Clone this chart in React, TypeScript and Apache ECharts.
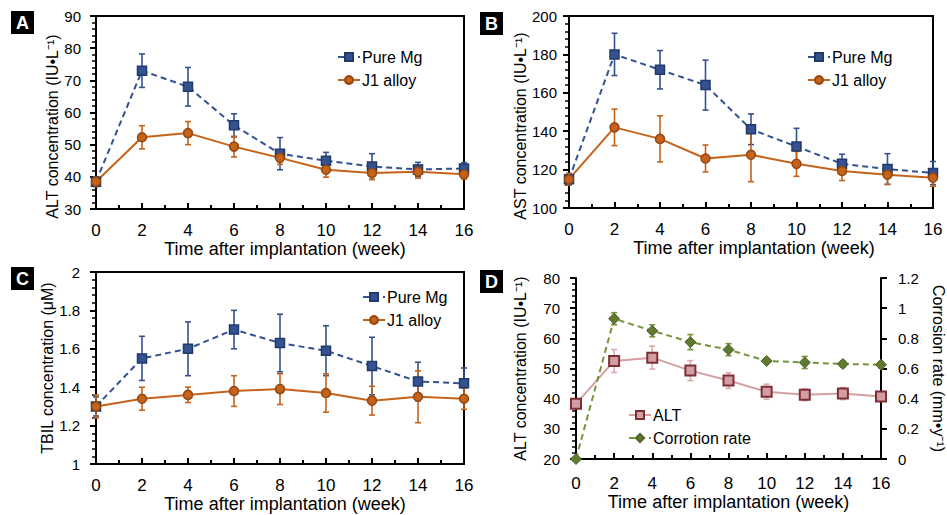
import React, { useEffect, useRef } from "react";
import * as echarts from "echarts";

const weeks = [0, 2, 4, 6, 8, 10, 12, 14, 16];

const pureA = [38.5, 73, 68, 56, 47.2, 45, 43.2, 42.3, 42.6];
const pureAErr = [1.5, 5.2, 6, 3.6, 5, 2.6, 4, 2.2, 1.8];
const j1A = [38.5, 52.3, 53.6, 49.4, 45.9, 42.2, 41.2, 41.6, 40.8];
const j1AErr = [1.5, 3.6, 3.6, 3.2, 2, 2.3, 2, 2, 1.5];

const pureB = [115, 180, 172, 164, 141, 132, 123, 120.3, 118.2];
const pureBErr = [3, 11, 10, 13, 8, 9.5, 5, 8, 6];
const j1B = [115, 142, 136, 125.8, 127.7, 123, 119.3, 117.3, 115.8];
const j1BErr = [3, 9.5, 12, 7, 14, 6.5, 5, 5, 4.5];

const pureC = [1.3, 1.55, 1.6, 1.7, 1.63, 1.59, 1.51, 1.43, 1.42];
const pureCErr = [0.05, 0.115, 0.14, 0.1, 0.15, 0.13, 0.15, 0.1, 0.08];
const j1C = [1.3, 1.34, 1.36, 1.38, 1.39, 1.37, 1.33, 1.35, 1.34];
const j1CErr = [0.06, 0.06, 0.04, 0.08, 0.08, 0.1, 0.075, 0.135, 0.055];

const altD = [38.3, 52.5, 53.6, 49.3, 46, 42.3, 41.3, 41.7, 40.7];
const altDErr = [1.5, 3.8, 3.8, 3.3, 2.6, 2.5, 2, 2, 1.5];
const corrD = [0, 0.93, 0.85, 0.775, 0.725, 0.65, 0.64, 0.63, 0.625];
const corrDErr = [0, 0.04, 0.04, 0.05, 0.04, 0.015, 0.04, 0.02, 0.02];

const FONT = "'Liberation Sans', Arial, sans-serif";
const BLUE = "#34528f";
const BLUE_DARK = "#1f3a6b";
const ORANGE = "#c5631b";
const ORANGE_DARK = "#94460f";
const PINK = "#d3a0a3";
const PINK_DARK = "#7d2f35";
const GREEN = "#77933c";
const GREEN_DARK = "#4f6228";

function pts(vals: number[]) {
  return weeks.map((w, i) => [w, vals[i]]);
}
function errPts(vals: number[], errs: number[]) {
  return weeks.map((w, i) => [w, vals[i], errs[i]]);
}

function errSeries(vals: number[], errs: number[], color: string, gi: number, yi: number) {
  return {
    type: "custom",
    name: "err",
    xAxisIndex: gi,
    yAxisIndex: yi,
    z: 2,
    silent: true,
    encode: { x: 0, y: 1 },
    data: errPts(vals, errs),
    renderItem: (params: any, api: any) => {
      const x = api.value(0);
      const y = api.value(1);
      const e = api.value(2);
      if (!e) return { type: "group", children: [] };
      const hi = api.coord([x, y + e]);
      const lo = api.coord([x, y - e]);
      const w = 3;
      const style = { stroke: color, lineWidth: 1.6 };
      return {
        type: "group",
        children: [
          { type: "line", shape: { x1: hi[0], y1: hi[1], x2: lo[0], y2: lo[1] }, style },
          { type: "line", shape: { x1: hi[0] - w, y1: hi[1], x2: hi[0] + w, y2: hi[1] }, style },
          { type: "line", shape: { x1: lo[0] - w, y1: lo[1], x2: lo[0] + w, y2: lo[1] }, style },
        ],
      };
    },
  };
}

function lineSeries(name: string, vals: number[], gi: number, yi: number, kind: string) {
  const base: any = {
    type: "line",
    name,
    xAxisIndex: gi,
    yAxisIndex: yi,
    z: 3,
    data: pts(vals),
    symbolSize: 9,
  };
  if (kind === "pure") {
    base.symbol = "rect";
    base.lineStyle = { color: BLUE, width: 2, type: [6, 4] };
    base.itemStyle = { color: BLUE, borderColor: BLUE_DARK, borderWidth: 1.5 };
  } else if (kind === "j1") {
    base.symbol = "circle";
    base.lineStyle = { color: ORANGE, width: 2 };
    base.itemStyle = { color: ORANGE, borderColor: ORANGE_DARK, borderWidth: 1.5 };
  } else if (kind === "alt") {
    base.symbol = "rect";
    base.symbolSize = 10;
    base.lineStyle = { color: PINK, width: 2 };
    base.itemStyle = { color: "#d39ea2", borderColor: PINK_DARK, borderWidth: 2 };
  } else {
    base.symbol = "diamond";
    base.symbolSize = 11;
    base.lineStyle = { color: GREEN, width: 2, type: [6, 4] };
    base.itemStyle = { color: "#5f7a30", borderColor: GREEN_DARK, borderWidth: 1 };
  }
  return base;
}

function xAxis(gi: number, nameGap: number, labelMargin: number, namePad: number[]) {
  return {
    type: "value",
    gridIndex: gi,
    min: 0,
    max: 16,
    interval: 2,
    name: "Time after implantation (week)",
    nameLocation: "middle",
    nameGap,
    nameTextStyle: { fontSize: 18, color: "#000", fontFamily: FONT, padding: namePad },
    axisLine: { show: true, onZero: false, lineStyle: { color: "#000", width: 2 } },
    axisTick: { show: true, inside: true, length: 6, lineStyle: { color: "#000", width: 2 } },
    minorTick: { show: true, splitNumber: 2, length: 4, lineStyle: { color: "#000", width: 2 } },
    axisLabel: { fontSize: 17, color: "#000", fontFamily: FONT, margin: labelMargin },
    splitLine: { show: false },
  };
}

function yAxis(gi: number, min: number, max: number, interval: number, name: string, nameGap: number, labelMargin: number, namePad: number[], extra: any = {}) {
  return {
    type: "value",
    gridIndex: gi,
    min,
    max,
    interval,
    name,
    nameLocation: "middle",
    nameGap,
    nameRotate: 90,
    nameTextStyle: { fontSize: 16, color: "#000", fontFamily: FONT, padding: namePad },
    axisLine: { show: true, onZero: false, lineStyle: { color: "#000", width: 2 } },
    axisTick: { show: true, inside: false, length: 6, lineStyle: { color: "#000", width: 2 } },
    minorTick: { show: true, splitNumber: 5, length: 4, lineStyle: { color: "#000", width: 1.5 } },
    axisLabel: { fontSize: 15, color: "#000", fontFamily: FONT, margin: labelMargin },
    splitLine: { show: false },
    minorSplitLine: { show: false },
    ...extra,
  };
}

function panelLabel(letter: string, x: number, y: number) {
  return {
    type: "group",
    x,
    y,
    children: [
      { type: "rect", shape: { x: 0, y: 0, width: 23, height: 23 }, style: { fill: "#000" } },
      {
        type: "text",
        x: 11.5,
        y: 12,
        style: {
          text: letter,
          fill: "#fff",
          font: `bold 18px ${FONT}`,
          textAlign: "center",
          textVerticalAlign: "middle",
        },
      },
    ],
  };
}

function legend(data: string[], left: number, top: number) {
  return {
    data,
    left,
    top,
    orient: "vertical",
    itemWidth: 22,
    itemHeight: 10,
    itemGap: 7,
    textStyle: { fontSize: 16, color: "#000", fontFamily: FONT, padding: [0, 0, 0, -3] },
    selectedMode: false,
  };
}

export default function App() {
  const ref = useRef<HTMLDivElement>(null);
  useEffect(() => {
    if (!ref.current) return;
    const chart = echarts.init(ref.current, null, { renderer: "svg" });
    const gridBorder = { show: true, borderColor: "#000", borderWidth: 2, backgroundColor: "transparent" };
    const option: any = {
      animation: false,
      backgroundColor: "#fff",
      textStyle: { fontFamily: FONT },
      grid: [
        { left: 96, top: 16, width: 368, height: 193, ...gridBorder },
        { left: 569, top: 16, width: 364, height: 192, ...gridBorder },
        { left: 96, top: 272, width: 368, height: 192, ...gridBorder },
        { left: 576, top: 278, width: 307, height: 181, show: false },
      ],
      xAxis: [
        xAxis(0, 26, 13, [0, 0, 0, 10]),
        xAxis(1, 26, 13, [0, 0, 0, 6]),
        xAxis(2, 26, 13, [0, 0, 0, 10]),
        xAxis(3, 32, 16, [0, 0, 0, 0]),
      ],
      yAxis: [
        yAxis(0, 30, 90, 10, "ALT concentration (IU•L⁻¹)", 34, 15, [0, 28, 0, 0]),
        yAxis(1, 100, 200, 20, "AST concentration (IU•L⁻¹)", 37, 12, [0, 28, 0, 0]),
        yAxis(2, 1, 2, 0.2, "TBIL concentration (μM)", 36, 16, [0, 0, 0, 0]),
        yAxis(3, 20, 80, 10, "ALT concentration (IU•L⁻¹)", 48, 16, [0, 0, 0, 0]),
        yAxis(3, 0, 1.2, 0.2, "Corrosion rate (mm•y⁻¹)", 49, 17, [0, 0, 0, 0], {
          position: "right",
          nameRotate: -90,
          minorTick: { show: false },
        }),
      ],
      legend: [
        legend(["Pure Mg", "J1 alloy"], 332, 44),
        legend(["Pure Mg", "J1 alloy"], 802, 44),
        legend(["Pure Mg", "J1 alloy"], 357, 284),
        legend(["ALT", "Corrotion rate"], 623, 402),
      ],
      graphic: [
        panelLabel("A", 11, 11),
        panelLabel("B", 480, 12),
        panelLabel("C", 11, 267),
        panelLabel("D", 480, 270),
      ],
      series: [
        errSeries(pureA, pureAErr, BLUE, 0, 0),
        errSeries(j1A, j1AErr, ORANGE, 0, 0),
        lineSeries("Pure Mg", pureA, 0, 0, "pure"),
        lineSeries("J1 alloy", j1A, 0, 0, "j1"),
        errSeries(pureB, pureBErr, BLUE, 1, 1),
        errSeries(j1B, j1BErr, ORANGE, 1, 1),
        lineSeries("Pure Mg", pureB, 1, 1, "pure"),
        lineSeries("J1 alloy", j1B, 1, 1, "j1"),
        errSeries(pureC, pureCErr, BLUE, 2, 2),
        errSeries(j1C, j1CErr, ORANGE, 2, 2),
        lineSeries("Pure Mg", pureC, 2, 2, "pure"),
        lineSeries("J1 alloy", j1C, 2, 2, "j1"),
        errSeries(altD, altDErr, "#dcaaad", 3, 3),
        errSeries(corrD, corrDErr, GREEN, 3, 4),
        lineSeries("ALT", altD, 3, 3, "alt"),
        lineSeries("Corrotion rate", corrD, 3, 4, "corr"),
      ],
    };
    chart.setOption(option);
    return () => chart.dispose();
  }, []);
  return (
    <div
      ref={ref}
      style={{ position: "fixed", left: 0, top: 0, width: 947, height: 515, background: "#fff" }}
    />
  );
}
